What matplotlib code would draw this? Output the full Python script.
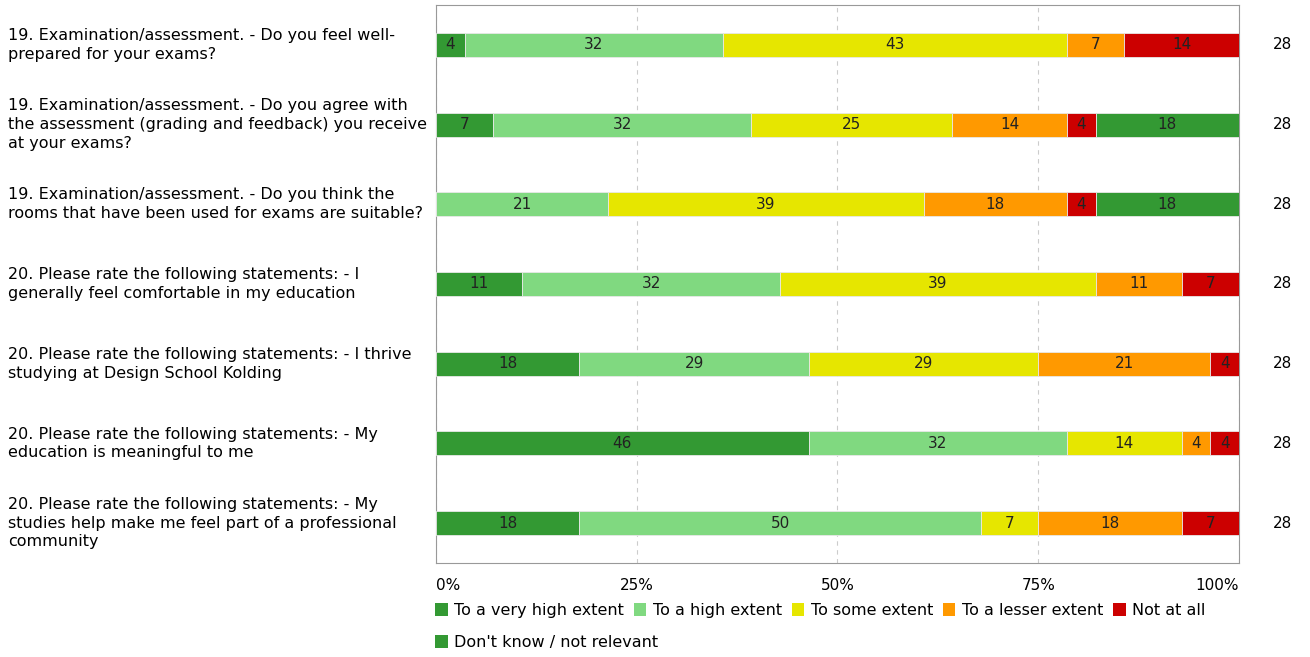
import numpy as np
import matplotlib
matplotlib.use('Agg')
import matplotlib.pyplot as plt
from matplotlib.patches import Patch

questions = [
    '19. Examination/assessment. - Do you feel well-\nprepared for your exams?',
    '19. Examination/assessment. - Do you agree with\nthe assessment (grading and feedback) you receive\nat your exams?',
    '19. Examination/assessment. - Do you think the\nrooms that have been used for exams are suitable?',
    '20. Please rate the following statements: - I\ngenerally feel comfortable in my education',
    '20. Please rate the following statements: - I thrive\nstudying at Design School Kolding',
    '20. Please rate the following statements: - My\neducation is meaningful to me',
    '20. Please rate the following statements: - My\nstudies help make me feel part of a professional\ncommunity',
]
categories = ['To a very high extent', 'To a high extent', 'To some extent',
              'To a lesser extent', 'Not at all', "Don't know / not relevant"]
colors = ['#339933', '#80d980', '#e6e600', '#ff9900', '#cc0000', '#339933']

# answer counts per question (n = 28), columns follow categories
very_high = [1, 2, 0, 3, 5, 13, 5]
high = [9, 9, 6, 9, 8, 9, 14]
some = [12, 7, 11, 11, 8, 4, 2]
lesser = [2, 4, 5, 3, 6, 1, 5]
not_at_all = [4, 1, 1, 2, 1, 1, 2]
dont_know = [0, 5, 5, 0, 0, 0, 0]
totals = [28, 28, 28, 28, 28, 28, 28]

series = [very_high, high, some, lesser, not_at_all, dont_know]

fig = plt.figure(figsize=(13.1, 6.57), dpi=100)
ax = fig.add_axes([436 / 1310, 94 / 657, 803 / 1310, 558 / 657])

y = np.arange(len(questions))
left = np.zeros(len(questions))
for vals, col in zip(series, colors):
    pct = np.array(vals) / np.array(totals) * 100
    ax.barh(y, pct, left=left, height=0.3, color=col, edgecolor='#e8e8e8', linewidth=0.6, zorder=3)
    for yi, l, p in zip(y, left, pct):
        if p > 0:
            ax.text(l + p / 2, yi, f'{p:.0f}', ha='center', va='center', fontsize=11, color='#222222', zorder=4)
    left += pct

ax.set_xlim(0, 100)
ax.set_ylim(len(questions) - 0.5, -0.5)
ax.set_yticks([])
ax.set_xticks([0, 25, 50, 75, 100])
ax.set_xticklabels(['0%', '25%', '50%', '75%', '100%'])
ax.tick_params(axis='x', length=0, pad=11, labelsize=11)
for lab, ha in zip(ax.get_xticklabels(), ['left', 'center', 'center', 'center', 'right']):
    lab.set_ha(ha)
ax.xaxis.grid(True, linestyle=(0, (4, 4)), color='#cccccc', linewidth=0.8, zorder=0)
for sp in ax.spines.values():
    sp.set_color('#999999')
    sp.set_linewidth(0.8)

for yi, q, n in zip(y, questions, totals):
    ax.text(-53.3, yi, q, ha='left', va='center', fontsize=11.5, linespacing=1.32, clip_on=False)
    ax.text(105.4, yi, str(n), ha='center', va='center', fontsize=11, clip_on=False)

handles = [Patch(facecolor=c, edgecolor='none') for c in colors]
leg1 = fig.legend(handles[:5], categories[:5], ncol=5, loc='upper left',
                  bbox_to_anchor=(435 / 1310, 1 - 603 / 657), frameon=False, fontsize=11.5,
                  handlelength=0.8, handleheight=0.9, handletextpad=0.4, columnspacing=0.6,
                  borderaxespad=0, borderpad=0)
leg2 = fig.legend(handles[5:], categories[5:], loc='upper left',
                  bbox_to_anchor=(435 / 1310, 1 - 635 / 657), frameon=False, fontsize=11.5,
                  handlelength=0.8, handleheight=0.9, handletextpad=0.4,
                  borderaxespad=0, borderpad=0)

fig.savefig('out.png', dpi=100)
